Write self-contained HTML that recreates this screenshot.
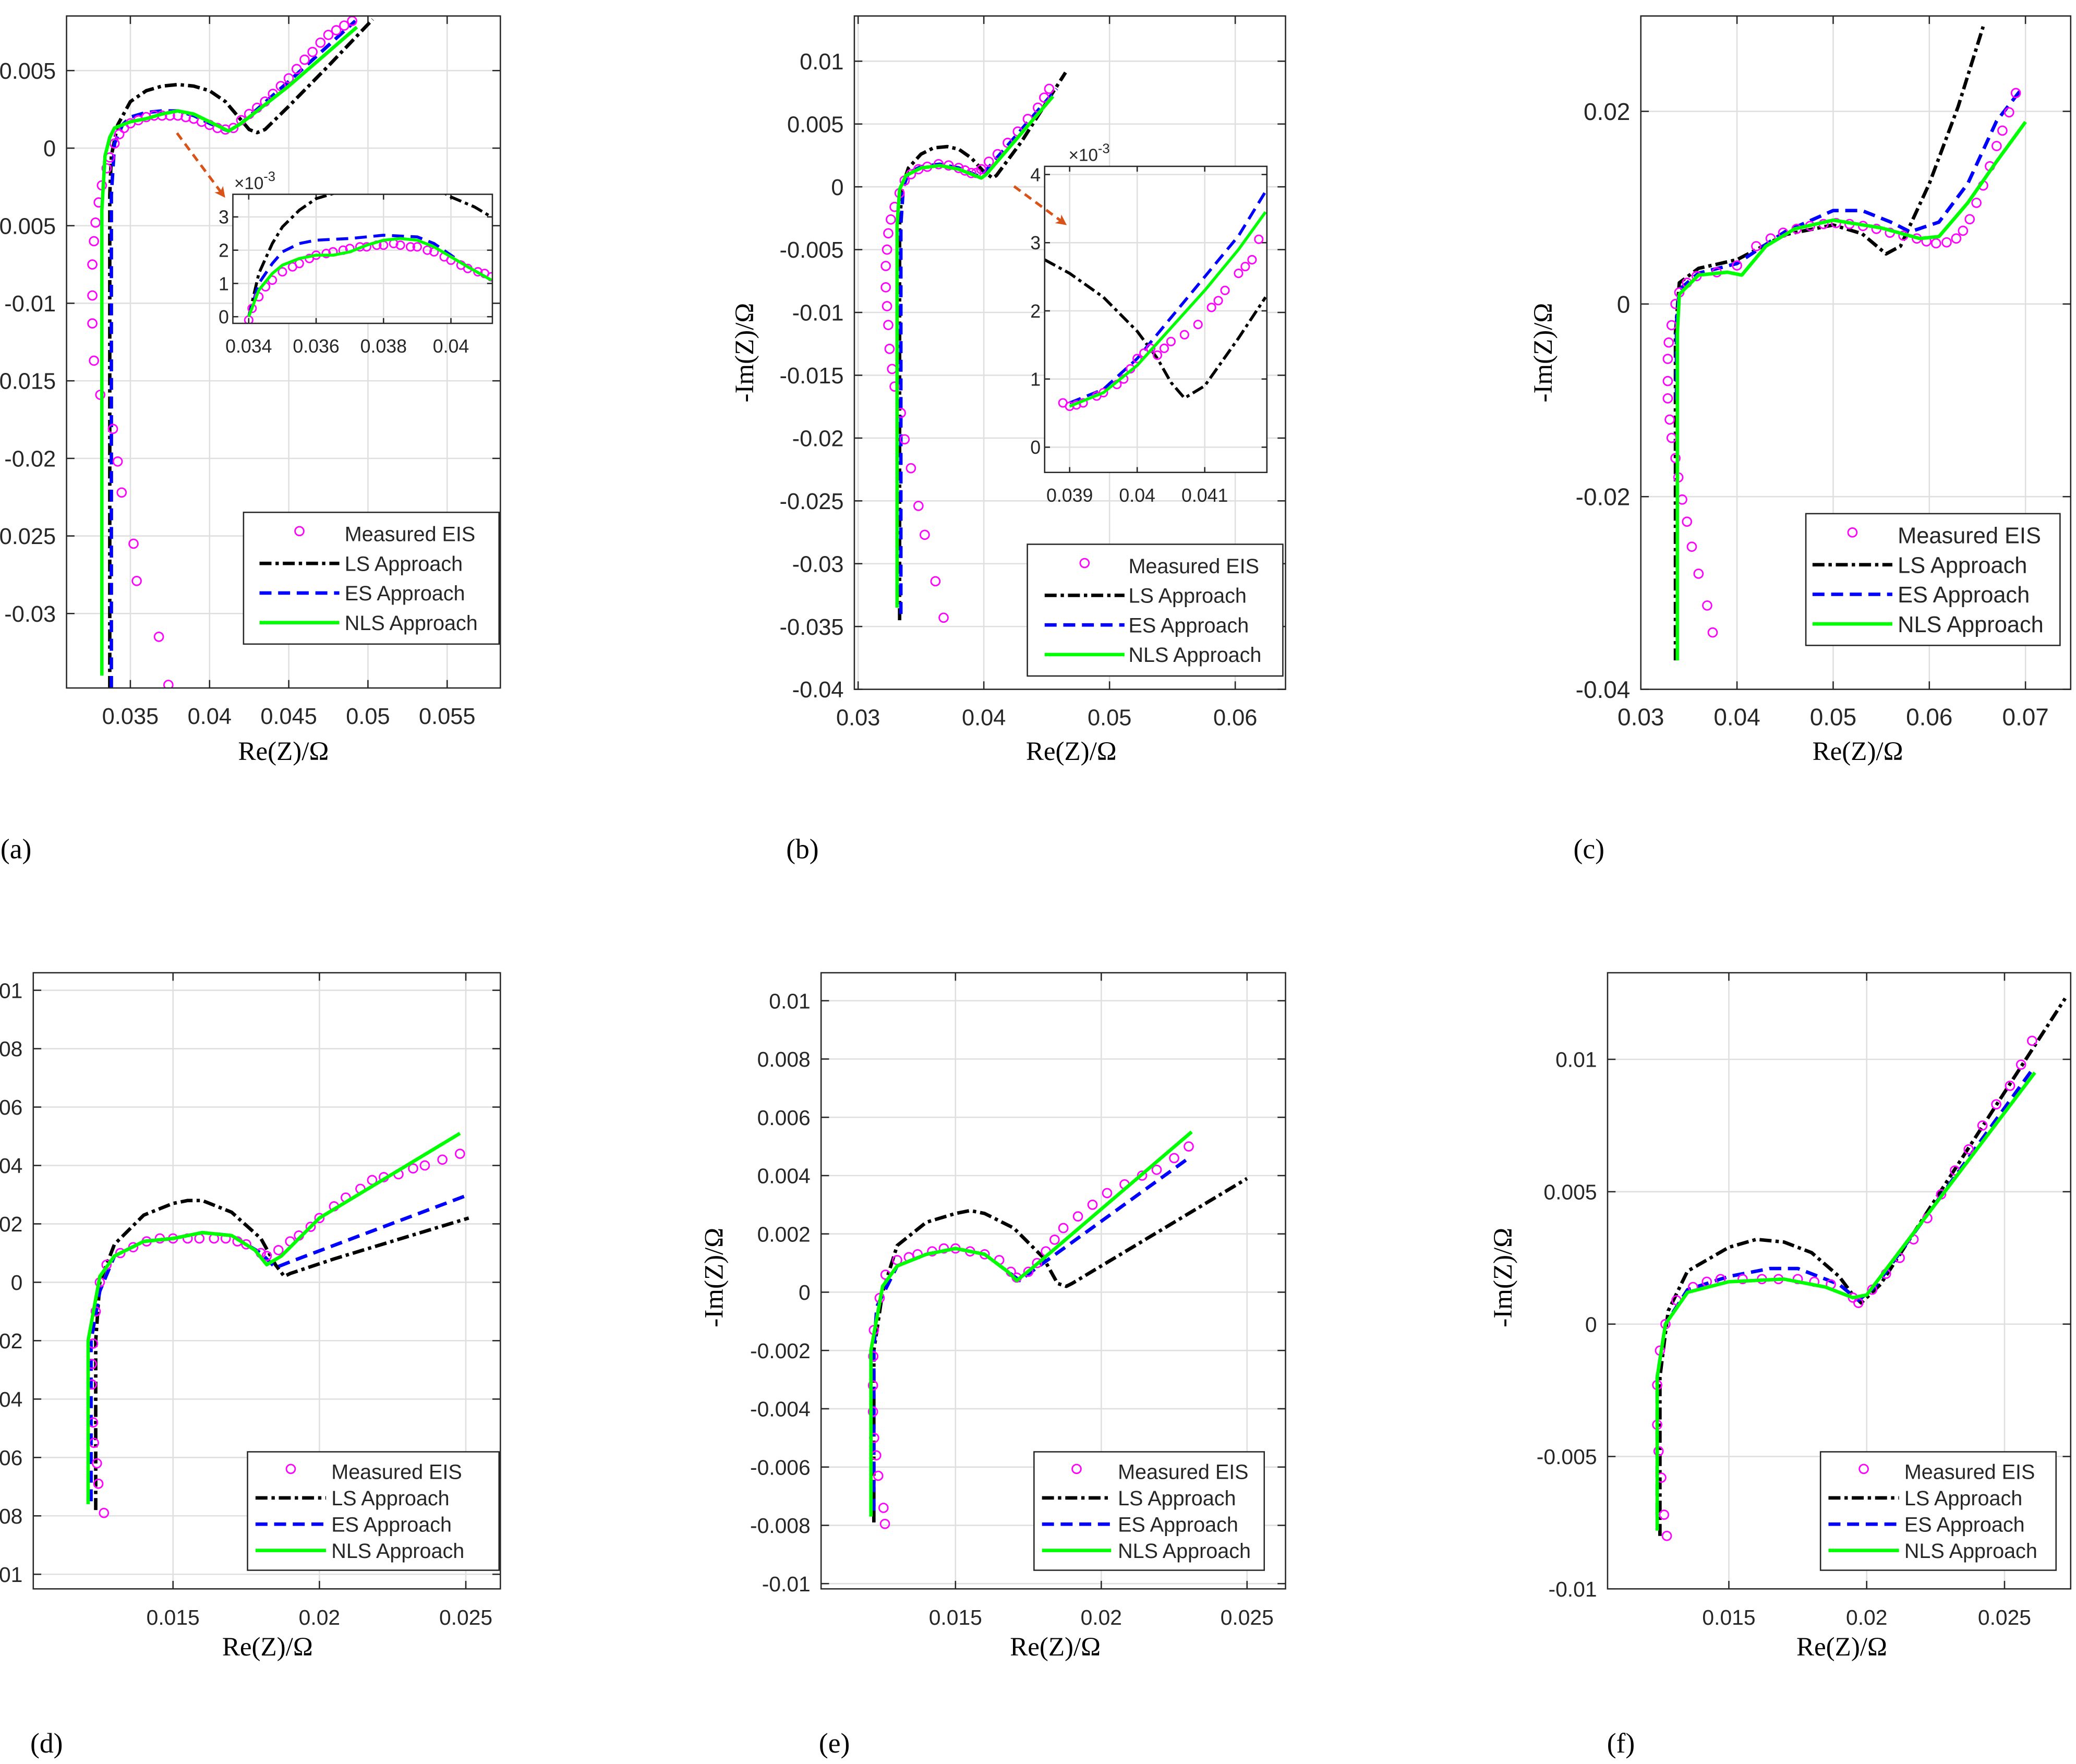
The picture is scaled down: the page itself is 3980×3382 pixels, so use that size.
<!DOCTYPE html>
<html><head><meta charset="utf-8"><style>
html,body{margin:0;padding:0;background:#fff;}
svg{display:block;}
text{font-family:"Liberation Sans",sans-serif;fill:#262626;}
.serif{font-family:"Liberation Serif",serif;fill:#000;}
</style></head><body>
<svg id="fig" width="3980" height="3382" viewBox="0 0 1560 1325.6" xmlns="http://www.w3.org/2000/svg">
<defs>
<marker id="arrowhead" markerWidth="8" markerHeight="8" refX="6" refY="4" orient="auto" markerUnits="userSpaceOnUse"><path d="M0,0 L8,4 L0,8 L2,4 Z" fill="#d95319"/></marker>
</defs>
</svg>
<script>
// ---------- data (Re(Z), -Im(Z)) ----------
const a_meas=[[0.0374,-0.0346],[0.0368,-0.0315],[0.0354,-0.0279],[0.0352,-0.0255],[0.03445,-0.0222],[0.0342,-0.0202],[0.0339,-0.0181],[0.0331,-0.0159],[0.0327,-0.0137],[0.0326,-0.0113],[0.0326,-0.0095],[0.0326,-0.0075],[0.0327,-0.006],[0.0328,-0.0048],[0.0330,-0.0035],[0.0332,-0.0024],[0.0335,-0.0013],[0.0337,-0.0006],[0.034,0.0003],[0.0343,0.0009],[0.0346,0.0013],[0.035,0.0016],[0.0355,0.0018],[0.036,0.002],[0.0365,0.0021],[0.037,0.0021],[0.0375,0.0021],[0.038,0.0021],[0.0385,0.002],[0.039,0.0019],[0.0395,0.0017],[0.040,0.0015],[0.0405,0.0013],[0.041,0.0012],[0.0415,0.0013],[0.042,0.0018],[0.0425,0.0022],[0.043,0.0026],[0.0435,0.003],[0.044,0.0035],[0.0445,0.004],[0.045,0.0045],[0.0455,0.0051],[0.046,0.0057],[0.0465,0.0062],[0.047,0.0068],[0.0475,0.0073],[0.048,0.0076],[0.0485,0.0079],[0.049,0.0082]];
const a_ls=[[0.0337,-0.0348],[0.0337,-0.003],[0.0338,-0.0005],[0.0342,0.0015],[0.035,0.003],[0.036,0.0037],[0.037,0.004],[0.038,0.0041],[0.039,0.004],[0.040,0.0037],[0.041,0.003],[0.042,0.0018],[0.0425,0.0012],[0.043,0.001],[0.0435,0.0012],[0.045,0.0027],[0.0475,0.0053],[0.0503,0.0083]];
const a_es=[[0.0338,-0.0348],[0.0338,-0.003],[0.034,0.0003],[0.0345,0.0015],[0.035,0.002],[0.036,0.0023],[0.037,0.0024],[0.038,0.0024],[0.039,0.0021],[0.040,0.0016],[0.0412,0.0011],[0.042,0.0016],[0.045,0.0043],[0.0492,0.0082]];
const a_nls=[[0.0332,-0.034],[0.0332,-0.004],[0.0334,-0.0005],[0.0337,0.0007],[0.034,0.0013],[0.035,0.0017],[0.036,0.0019],[0.037,0.0022],[0.038,0.0024],[0.039,0.0022],[0.040,0.0017],[0.0412,0.0011],[0.042,0.0016],[0.045,0.004],[0.0493,0.0078]];
const ai_meas=[[0.034,-0.1],[0.0341,0.25],[0.0343,0.6],[0.0345,0.9],[0.0347,1.1],[0.035,1.35],[0.0353,1.5],[0.0355,1.6],[0.0358,1.75],[0.036,1.85],[0.0363,1.9],[0.0365,1.95],[0.0368,2.0],[0.037,2.05],[0.0373,2.1],[0.0375,2.1],[0.0378,2.15],[0.038,2.15],[0.0383,2.2],[0.0385,2.15],[0.0388,2.1],[0.039,2.1],[0.0393,2.0],[0.0395,1.95],[0.0398,1.8],[0.040,1.7],[0.0403,1.55],[0.0405,1.45],[0.0408,1.35],[0.041,1.3],[0.0412,1.2]];
const ai_ls=[[0.034,0],[0.0343,1.3],[0.0347,2.2],[0.035,2.7],[0.0355,3.2],[0.036,3.55],[0.037,3.85],[0.0385,4.0],[0.0395,3.9],[0.040,3.6],[0.0407,3.3],[0.0412,3.0]];
const ai_es=[[0.034,0],[0.0343,1.0],[0.0347,1.6],[0.035,1.95],[0.0355,2.2],[0.036,2.3],[0.037,2.35],[0.038,2.45],[0.039,2.4],[0.0395,2.2],[0.040,1.85],[0.0405,1.5],[0.0412,1.1]];
const ai_nls=[[0.034,0],[0.0343,0.8],[0.0347,1.3],[0.035,1.55],[0.0355,1.75],[0.036,1.85],[0.0365,1.85],[0.037,1.95],[0.0375,2.15],[0.038,2.3],[0.0385,2.35],[0.039,2.3],[0.0395,2.1],[0.040,1.8],[0.0405,1.5],[0.0412,1.1]];

const b_meas=[[0.0368,-0.0343],[0.03615,-0.0314],[0.0353,-0.0277],[0.0348,-0.0254],[0.0342,-0.0224],[0.0337,-0.0201],[0.0334,-0.018],[0.0329,-0.0159],[0.0327,-0.0145],[0.0325,-0.0129],[0.0324,-0.011],[0.0323,-0.0095],[0.0322,-0.008],[0.0322,-0.0063],[0.0323,-0.005],[0.0324,-0.0037],[0.0326,-0.0026],[0.0329,-0.0016],[0.0333,-0.0005],[0.0337,0.0005],[0.0342,0.001],[0.0348,0.0014],[0.0355,0.0016],[0.0364,0.0018],[0.0372,0.0017],[0.038,0.0015],[0.0385,0.0013],[0.039,0.0011],[0.0394,0.0011],[0.0398,0.0014],[0.0404,0.002],[0.0411,0.0026],[0.0419,0.0035],[0.0427,0.0044],[0.0435,0.0054],[0.0443,0.0063],[0.0448,0.0071],[0.0452,0.0078]];
const b_ls=[[0.0333,-0.0345],[0.0333,-0.003],[0.0335,0],[0.034,0.0015],[0.035,0.0026],[0.036,0.0031],[0.0371,0.0032],[0.038,0.003],[0.039,0.0023],[0.040,0.0012],[0.0407,0.0007],[0.041,0.0009],[0.043,0.0036],[0.0465,0.0091]];
const b_es=[[0.0334,-0.034],[0.0334,-0.003],[0.0336,0],[0.034,0.0011],[0.035,0.0016],[0.0365,0.0018],[0.038,0.0015],[0.0397,0.0008],[0.040,0.0011],[0.0458,0.0078]];
const b_nls=[[0.0331,-0.0335],[0.0331,-0.003],[0.0333,-0.0002],[0.0338,0.0009],[0.035,0.0015],[0.0365,0.0017],[0.038,0.0014],[0.0398,0.0007],[0.0402,0.001],[0.0455,0.0072]];
const bi_meas=[[0.0389,0.65],[0.039,0.6],[0.0391,0.62],[0.0392,0.65],[0.0394,0.75],[0.0395,0.8],[0.0397,0.92],[0.0398,1.0],[0.0399,1.15],[0.040,1.3],[0.0401,1.38],[0.0402,1.45],[0.0403,1.35],[0.0404,1.45],[0.0405,1.55],[0.0407,1.65],[0.0409,1.8],[0.0411,2.05],[0.0412,2.15],[0.0413,2.3],[0.0415,2.55],[0.0416,2.65],[0.0417,2.75],[0.0418,3.05]];
const bi_ls=[[0.03863,2.75],[0.039,2.55],[0.0395,2.2],[0.040,1.7],[0.0403,1.3],[0.0405,0.95],[0.0407,0.72],[0.041,0.9],[0.0415,1.6],[0.0419,2.2]];
const bi_es=[[0.039,0.65],[0.0395,0.85],[0.040,1.3],[0.0405,1.9],[0.041,2.5],[0.0415,3.1],[0.0419,3.75]];
const bi_nls=[[0.039,0.6],[0.0395,0.8],[0.040,1.2],[0.0405,1.75],[0.041,2.3],[0.0415,2.9],[0.0419,3.45]];

const c_meas=[[0.03747,-0.0341],[0.0369,-0.0313],[0.036,-0.028],[0.0353,-0.0252],[0.0348,-0.0226],[0.0343,-0.0203],[0.0339,-0.018],[0.0336,-0.016],[0.0332,-0.0139],[0.033,-0.012],[0.0328,-0.0098],[0.0328,-0.008],[0.0328,-0.0057],[0.0329,-0.004],[0.0332,-0.0022],[0.0336,0],[0.034,0.0012],[0.0348,0.0022],[0.0358,0.0029],[0.0379,0.0033],[0.040,0.004],[0.042,0.006],[0.0435,0.0068],[0.0448,0.0074],[0.0462,0.0078],[0.0476,0.0081],[0.049,0.0083],[0.0503,0.0084],[0.0517,0.0083],[0.0531,0.0081],[0.0545,0.0078],[0.0559,0.0074],[0.0573,0.0071],[0.0587,0.0068],[0.0597,0.0065],[0.0607,0.0063],[0.0618,0.0064],[0.0628,0.0068],[0.0635,0.0076],[0.0642,0.0088],[0.0649,0.0105],[0.0656,0.0123],[0.0663,0.0143],[0.067,0.0164],[0.0676,0.018],[0.0683,0.0199],[0.069,0.0219]];
const c_ls=[[0.0336,-0.037],[0.0336,-0.003],[0.034,0.0022],[0.036,0.0037],[0.040,0.0046],[0.045,0.0072],[0.050,0.0082],[0.053,0.0073],[0.0555,0.0052],[0.057,0.006],[0.060,0.0125],[0.063,0.0205],[0.0656,0.0288]];
const c_es=[[0.0337,-0.01],[0.0337,-0.002],[0.034,0.0015],[0.036,0.0032],[0.040,0.0042],[0.045,0.0075],[0.050,0.0097],[0.053,0.0097],[0.056,0.0085],[0.058,0.0075],[0.061,0.0085],[0.064,0.0125],[0.067,0.019],[0.0695,0.0222]];
const c_nls=[[0.0338,-0.037],[0.0338,-0.003],[0.034,0.001],[0.036,0.003],[0.039,0.0033],[0.0405,0.003],[0.043,0.006],[0.046,0.0078],[0.050,0.0087],[0.055,0.0079],[0.059,0.0068],[0.061,0.007],[0.064,0.0105],[0.067,0.0148],[0.070,0.0189]];

const d_meas=[[0.01264,-0.0079],[0.01245,-0.0069],[0.0124,-0.0062],[0.0123,-0.0055],[0.01227,-0.0048],[0.01223,-0.0035],[0.01223,-0.0028],[0.01227,-0.0021],[0.01236,-0.001],[0.0125,0],[0.01273,0.0006],[0.0132,0.001],[0.01364,0.0012],[0.0141,0.0014],[0.01455,0.0015],[0.015,0.0015],[0.0155,0.0015],[0.0159,0.0015],[0.0164,0.0015],[0.0168,0.0015],[0.0172,0.0014],[0.0175,0.0013],[0.018,0.001],[0.0182,0.0009],[0.0186,0.0011],[0.019,0.0014],[0.0193,0.0016],[0.0197,0.0019],[0.020,0.0022],[0.0205,0.0026],[0.0209,0.0029],[0.0214,0.0032],[0.0218,0.0035],[0.0222,0.0036],[0.0227,0.0037],[0.0232,0.0039],[0.0236,0.004],[0.0242,0.0042],[0.0248,0.0044]];
const d_ls=[[0.01236,-0.0078],[0.01236,-0.002],[0.0125,0],[0.013,0.0013],[0.014,0.0023],[0.015,0.0027],[0.0155,0.0028],[0.016,0.0028],[0.017,0.0024],[0.018,0.0015],[0.0185,0.0006],[0.0188,0.0002],[0.019,0.0003],[0.0205,0.0008],[0.0251,0.0022]];
const d_es=[[0.0122,-0.0075],[0.0122,-0.002],[0.0125,-0.0003],[0.013,0.0009],[0.014,0.0014],[0.015,0.0015],[0.016,0.0017],[0.017,0.0016],[0.018,0.001],[0.0185,0.0005],[0.019,0.0007],[0.0251,0.003]];
const d_nls=[[0.0121,-0.0076],[0.0121,-0.002],[0.0125,0.0002],[0.013,0.0009],[0.014,0.0014],[0.015,0.0015],[0.016,0.0017],[0.017,0.0016],[0.0178,0.0011],[0.0182,0.0006],[0.0187,0.0009],[0.020,0.0022],[0.0248,0.0051]];

const e_meas=[[0.01258,-0.00795],[0.01253,-0.0074],[0.01235,-0.0063],[0.01228,-0.0056],[0.01221,-0.005],[0.01217,-0.0041],[0.01217,-0.0032],[0.01218,-0.0022],[0.0122,-0.0013],[0.0124,-0.0002],[0.0126,0.0006],[0.013,0.0011],[0.0134,0.0012],[0.0137,0.0013],[0.0142,0.0014],[0.0146,0.0015],[0.015,0.0015],[0.0155,0.0014],[0.016,0.0013],[0.0165,0.0011],[0.0169,0.0007],[0.0171,0.0005],[0.0175,0.0007],[0.0178,0.001],[0.0181,0.0014],[0.0184,0.0018],[0.0187,0.0022],[0.0192,0.0026],[0.0197,0.003],[0.0202,0.0034],[0.0208,0.0037],[0.0214,0.004],[0.0219,0.0042],[0.0225,0.0046],[0.023,0.005]];
const e_ls=[[0.0122,-0.0079],[0.0122,-0.002],[0.0125,0],[0.013,0.0016],[0.014,0.0024],[0.015,0.0027],[0.0155,0.0028],[0.016,0.0027],[0.017,0.0022],[0.018,0.0012],[0.0185,0.0003],[0.0188,0.0002],[0.019,0.0003],[0.025,0.0039]];
const e_es=[[0.0122,-0.0075],[0.0122,-0.002],[0.0123,-0.0005],[0.013,0.0009],[0.014,0.0013],[0.015,0.0015],[0.016,0.0013],[0.0168,0.0007],[0.0172,0.0004],[0.0176,0.0007],[0.023,0.0046]];
const e_nls=[[0.0121,-0.0077],[0.0121,-0.002],[0.0125,0.0002],[0.013,0.0009],[0.014,0.0013],[0.015,0.0015],[0.016,0.0013],[0.0168,0.0007],[0.0171,0.0004],[0.0176,0.0008],[0.0231,0.0055]];

const f_meas=[[0.01275,-0.008],[0.01265,-0.0072],[0.01255,-0.0058],[0.01245,-0.0048],[0.0124,-0.0038],[0.0124,-0.0023],[0.0125,-0.001],[0.0127,0],[0.0131,0.0009],[0.0137,0.0014],[0.0142,0.0016],[0.0147,0.0017],[0.0155,0.0017],[0.0162,0.0017],[0.0168,0.0017],[0.0175,0.0017],[0.0181,0.0016],[0.0187,0.0015],[0.0195,0.001],[0.0197,0.0008],[0.0202,0.0013],[0.0207,0.0019],[0.0212,0.0025],[0.0217,0.0032],[0.0222,0.004],[0.0227,0.0049],[0.0232,0.0058],[0.0237,0.0066],[0.0242,0.0075],[0.0247,0.0083],[0.0252,0.009],[0.0256,0.0098],[0.026,0.0107]];
const f_ls=[[0.0125,-0.008],[0.0125,-0.002],[0.0128,0.0005],[0.0135,0.002],[0.015,0.0029],[0.016,0.0032],[0.017,0.0031],[0.018,0.0027],[0.019,0.0018],[0.0195,0.0011],[0.0198,0.0008],[0.0205,0.0015],[0.0272,0.0123]];
const f_es=[[0.0124,-0.0072],[0.0124,-0.002],[0.0127,0],[0.0135,0.0013],[0.015,0.0018],[0.0165,0.0021],[0.0175,0.0021],[0.019,0.0015],[0.0197,0.0009],[0.0203,0.0014],[0.026,0.0096]];
const f_nls=[[0.0124,-0.0078],[0.0124,-0.002],[0.0127,0],[0.0135,0.0012],[0.015,0.0016],[0.017,0.0017],[0.0185,0.0014],[0.0195,0.001],[0.020,0.0011],[0.0261,0.0095]];

// tick values and labels
const a_xt=[0.035,0.04,0.045,0.05,0.055], a_xl=["0.035","0.04","0.045","0.05","0.055"];
const a_yt=[0.005,0,-0.005,-0.01,-0.015,-0.02,-0.025,-0.03], a_yl=["0.005","0","-0.005","-0.01","-0.015","-0.02","-0.025","-0.03"];
const ai_xt=[0.034,0.036,0.038,0.04], ai_xl=["0.034","0.036","0.038","0.04"];
const ai_yt=[0,1,2,3], ai_yl=["0","1","2","3"];
const b_xt=[0.03,0.04,0.05,0.06], b_xl=["0.03","0.04","0.05","0.06"];
const b_yt=[0.01,0.005,0,-0.005,-0.01,-0.015,-0.02,-0.025,-0.03,-0.035,-0.04], b_yl=["0.01","0.005","0","-0.005","-0.01","-0.015","-0.02","-0.025","-0.03","-0.035","-0.04"];
const bi_xt=[0.039,0.04,0.041], bi_xl=["0.039","0.04","0.041"];
const bi_yt=[0,1,2,3,4], bi_yl=["0","1","2","3","4"];
const c_xt=[0.03,0.04,0.05,0.06,0.07], c_xl=["0.03","0.04","0.05","0.06","0.07"];
const c_yt=[0.02,0,-0.02,-0.04], c_yl=["0.02","0","-0.02","-0.04"];
const d_xt=[0.015,0.02,0.025], d_xl=["0.015","0.02","0.025"];
const d_yt=[0.01,0.008,0.006,0.004,0.002,0,-0.002,-0.004,-0.006,-0.008,-0.01], d_yl=["0.01","0.008","0.006","0.004","0.002","0","-0.002","-0.004","-0.006","-0.008","-0.01"];
const e_xt=d_xt, e_xl=d_xl, e_yt=d_yt, e_yl=d_yl;
const f_xt=d_xt, f_xl=d_xl;
const f_yt=[0.01,0.005,0,-0.005,-0.01], f_yl=["0.01","0.005","0","-0.005","-0.01"];

// ---------- drawing ----------
const NS="http://www.w3.org/2000/svg";
const svg=document.getElementById('fig');
let clipId=0;
function mk(tag,attrs,parent){const e=document.createElementNS(NS,tag);for(const k in attrs)e.setAttribute(k,attrs[k]);(parent||svg).appendChild(e);return e;}
const STY={
 ls:{stroke:"#000",dash:"9 3 2.5 3"},
 es:{stroke:"#0000ff",dash:"9 5"},
 nls:{stroke:"#00ff00",dash:""}
};
function panel(id,box,xd,yd,xt,xl,yt,yl,series,fs,inset){
 const [L,T,R,B]=box;
 const g=mk('g',{});
 
 
 const X=v=>L+(v-xd[0])/(xd[1]-xd[0])*(R-L);
 const Y=v=>B-(v-yd[0])/(yd[1]-yd[0])*(B-T);
 mk('rect',{x:L,y:T,width:R-L,height:B-T,fill:"#fff"},g);
 const grid=mk('g',{},g);
 
 
 const tk=inset?4:6;
 xt.forEach((v,i)=>{const x=X(v);
  mk('line',{x1:x,x2:x,y1:T,y2:B,stroke:"#dfdfdf","stroke-width":1},grid);
  mk('line',{x1:x,x2:x,y1:B,y2:B-tk,stroke:"#262626","stroke-width":1},g);
  mk('line',{x1:x,x2:x,y1:T,y2:T+tk,stroke:"#262626","stroke-width":1},g);
  const t=mk('text',{x:x,y:B+(inset?22:27),"text-anchor":"middle","font-size":fs},g);t.textContent=xl[i];
  
  
 });
 yt.forEach((v,i)=>{const y=Y(v);
  mk('line',{x1:L,x2:R,y1:y,y2:y,stroke:"#dfdfdf","stroke-width":1},grid);
  mk('line',{x1:L,x2:L+tk,y1:y,y2:y,stroke:"#262626","stroke-width":1},g);
  mk('line',{x1:R,x2:R-tk,y1:y,y2:y,stroke:"#262626","stroke-width":1},g);
  const t=mk('text',{x:L-(inset?3:8),y:y+fs*0.36,"text-anchor":"end","font-size":fs},g);t.textContent=yl[i];
  
  
 });
 const cid='clip'+(clipId++);
 const cp=mk('clipPath',{id:cid},g);mk('rect',{x:L,y:T,width:R-L,height:B-T},cp);
 const plot=mk('g',{"clip-path":`url(#${cid})`},g);
 const lw=inset?2.2:2.6;
 ['ls','es','nls'].forEach(k=>{
  const pts=series[k];
  const p=mk('polyline',{points:pts.map(q=>X(q[0]).toFixed(2)+','+Y(q[1]).toFixed(2)).join(' '),fill:"none",stroke:STY[k].stroke,"stroke-width":lw,"stroke-dasharray":STY[k].dash,"stroke-linejoin":"round"},plot);
  
  
 });
 series.meas.forEach(q=>{
  const c=mk('circle',{cx:X(q[0]),cy:Y(q[1]),r:inset?3:3.3,fill:"none",stroke:"#ff00ff","stroke-width":1.1},plot);
  
  
 });
 plot.appendChild(plot.children[2]);
 mk('rect',{x:L,y:T,width:R-L,height:B-T,fill:"none",stroke:"#262626","stroke-width":1},g);
 return g;
}
function legend(id,x,y,w,h,fs,s0,s1,tx){
 const g=mk('g',{});
 
 
 mk('rect',{x:x,y:y,width:w,height:h,fill:"#fff",stroke:"#262626","stroke-width":1},g);
 const names=["Measured EIS","LS Approach","ES Approach","NLS Approach"];
 const keys=['meas','ls','es','nls'];
 const step=(h-10)/4;
 keys.forEach((k,i)=>{
  const cy=y+5+step*(i+0.5);
  const e=mk('g',{},g);
  
  
  if(k==='meas') mk('circle',{cx:x+(s0+s1)/2,cy:cy-2,r:3.3,fill:"none",stroke:"#ff00ff","stroke-width":1.1},e);
  else mk('line',{x1:x+s0,x2:x+s1,y1:cy,y2:cy,stroke:STY[k].stroke,"stroke-width":2.6,"stroke-dasharray":STY[k].dash},e);
  const t=mk('text',{x:x+tx,y:cy+fs*0.36,"font-size":fs},e);t.textContent=names[i];
 });
}
function txt(s,x,y,fs,cls,rot,name){
 const t=mk('text',{x:x,y:y,"font-size":fs,"text-anchor":"middle"});
 if(cls)t.setAttribute('class',cls);
 if(rot)t.setAttribute('transform',`rotate(-90 ${x} ${y})`);
 t.textContent=s;
 
 
}

// panel a
panel('a',[50,12,376,517],[0.03097,0.05836],[-0.0348,0.00852],a_xt,a_xl,a_yt,a_yl,{meas:a_meas,ls:a_ls,es:a_es,nls:a_nls},17);
panel('a',[175,146,370,243],[0.03353,0.04123],[-0.2,3.68],ai_xt,ai_xl,ai_yt,ai_yl,{meas:ai_meas,ls:ai_ls,es:ai_es,nls:ai_nls},14,true);
legend('a',183,385,192,99,15.5,12,72,76);
// panel b
panel('b',[642,12,966,518],[0.0297,0.064],[-0.04,0.0136],b_xt,b_xl,b_yt,b_yl,{meas:b_meas,ls:b_ls,es:b_es,nls:b_nls},17);
panel('b',[785,125,952,355],[0.03863,0.04192],[-0.37,4.12],bi_xt,bi_xl,bi_yt,bi_yl,{meas:bi_meas,ls:bi_ls,es:bi_es,nls:bi_nls},14,true);
legend('b',772,409,192,99,15.5,13,73,76);
// panel c
panel('c',[1233,12,1556,518],[0.03,0.0747],[-0.04,0.0299],c_xt,c_xl,c_yt,c_yl,{meas:c_meas,ls:c_ls,es:c_es,nls:c_nls},18);
legend('c',1357,386,191,99,17,5,65,69);
// panel d
panel('d',[25,731,376,1194],[0.010227,0.02618],[-0.0105,0.0106],d_xt,d_xl,d_yt,d_yl,{meas:d_meas,ls:d_ls,es:d_es,nls:d_nls},16);
legend('d',186,1091,189,89,15.5,6,59,63);
// panel e
panel('e',[617,731,966,1194],[0.01039,0.02632],[-0.01018,0.01096],e_xt,e_xl,e_yt,e_yl,{meas:e_meas,ls:e_ls,es:e_es,nls:e_nls},16);
legend('e',777,1091,173,89,15.5,6,58,63);
// panel f
panel('f',[1208,731,1556,1194],[0.0106,0.0274],[-0.01,0.01327],f_xt,f_xl,f_yt,f_yl,{meas:f_meas,ls:f_ls,es:f_es,nls:f_nls},16);
legend('f',1368,1091,177,89,15.5,6,59,63);

// exponent labels for insets
const ex1=mk('text',{x:176,y:142,"font-size":13});ex1.innerHTML='×10<tspan dy="-6" font-size="10">-3</tspan>';


const ex2=mk('text',{x:803,y:121,"font-size":13});ex2.innerHTML='×10<tspan dy="-6" font-size="10">-3</tspan>';


// arrows
const ar1=mk('line',{x1:133,y1:100,x2:168,y2:147,stroke:"#d95319","stroke-width":2,"stroke-dasharray":"6 4","marker-end":"url(#arrowhead)"});


const ar2=mk('line',{x1:762,y1:140,x2:800,y2:168,stroke:"#d95319","stroke-width":2,"stroke-dasharray":"6 4","marker-end":"url(#arrowhead)"});



// axis titles
[[213,571],[805,571],[1396,571],[201,1244],[793,1244],[1384,1244]].forEach(p=>txt('Re(Z)/Ω',p[0],p[1],20,'serif',false,'x-axis-title'));
[[566,265],[1166,265],[543,960],[1136,960]].forEach(p=>txt('-Im(Z)/Ω',p[0],p[1],20,'serif',true,'y-axis-title'));
[['(a)',12,645],['(b)',603,645],['(c)',1194,645],['(d)',35,1317],['(e)',627,1317],['(f)',1218,1317]].forEach(p=>txt(p[0],p[1],p[2],21,'serif',false,'subfigure-caption'));
</script>
</body></html>
